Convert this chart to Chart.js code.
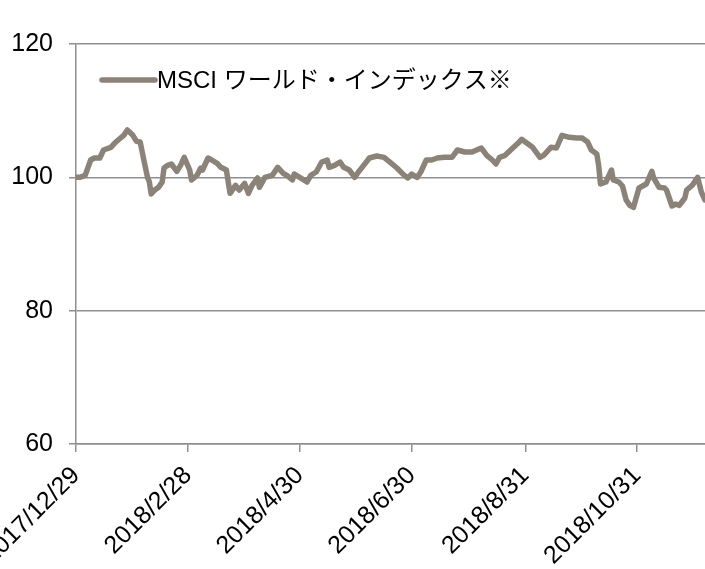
<!DOCTYPE html>
<html>
<head>
<meta charset="utf-8">
<script src="https://cdn.jsdelivr.net/npm/chart.js@4/dist/chart.umd.min.js"></script>
<style>
  html, body { margin: 0; padding: 0; background: #fff; }
  #wrap { width: 705px; height: 569px; }
</style>
</head>
<body>
<div id="wrap"><canvas id="grafica"></canvas></div>
<script>
// dates
const fechas = [
  "2017/12/29", "2017/12/31", "2018/1/3", "2018/1/6", "2018/1/8", "2018/1/11", "2018/1/13", "2018/1/17",
  "2018/1/19", "2018/1/21", "2018/1/24", "2018/1/26", "2018/1/29", "2018/1/31", "2018/2/2", "2018/2/4",
  "2018/2/6", "2018/2/7", "2018/2/8", "2018/2/10", "2018/2/12", "2018/2/14", "2018/2/15", "2018/2/17",
  "2018/2/19", "2018/2/22", "2018/2/24", "2018/2/26", "2018/3/1", "2018/3/2", "2018/3/5", "2018/3/7",
  "2018/3/8", "2018/3/11", "2018/3/13", "2018/3/16", "2018/3/18", "2018/3/21", "2018/3/23", "2018/3/26",
  "2018/3/28", "2018/3/31", "2018/4/2", "2018/4/4", "2018/4/7", "2018/4/8", "2018/4/11", "2018/4/15",
  "2018/4/18", "2018/4/21", "2018/4/23", "2018/4/26", "2018/4/27", "2018/4/30", "2018/5/4", "2018/5/6",
  "2018/5/9", "2018/5/12", "2018/5/15", "2018/5/16", "2018/5/19", "2018/5/22", "2018/5/24", "2018/5/27",
  "2018/5/30", "2018/6/1", "2018/6/3", "2018/6/7", "2018/6/11", "2018/6/15", "2018/6/19", "2018/6/22",
  "2018/6/26", "2018/6/28", "2018/6/30", "2018/7/3", "2018/7/5", "2018/7/8", "2018/7/11", "2018/7/14",
  "2018/7/18", "2018/7/22", "2018/7/25", "2018/7/29", "2018/8/2", "2018/8/7", "2018/8/10", "2018/8/13",
  "2018/8/15", "2018/8/17", "2018/8/20", "2018/8/23", "2018/8/27", "2018/8/29", "2018/9/1", "2018/9/4",
  "2018/9/8", "2018/9/10", "2018/9/14", "2018/9/17", "2018/9/20", "2018/9/24", "2018/9/28", "2018/10/1",
  "2018/10/4", "2018/10/6", "2018/10/9", "2018/10/10", "2018/10/11", "2018/10/14", "2018/10/17", "2018/10/18",
  "2018/10/21", "2018/10/23", "2018/10/25", "2018/10/27", "2018/10/29", "2018/11/1", "2018/11/3", "2018/11/5",
  "2018/11/8", "2018/11/9", "2018/11/12", "2018/11/15", "2018/11/16", "2018/11/19", "2018/11/21", "2018/11/23",
  "2018/11/26", "2018/11/27", "2018/11/30", "2018/12/3", "2018/12/5", "2018/12/7"
];

const msci = [
  100.0, 100.0, 100.3, 102.6, 102.9, 102.9, 104.1, 104.5,
  105.1, 105.6, 106.3, 107.1, 106.3, 105.4, 105.3, 102.6,
  100.0, 99.3, 97.5, 98.1, 98.5, 99.3, 101.4, 101.8,
  102.0, 100.9, 101.8, 103.0, 101.1, 99.6, 100.3, 101.4,
  101.1, 102.9, 102.6, 102.1, 101.5, 101.1, 97.6, 98.8,
  98.1, 99.1, 97.6, 98.8, 99.9, 98.5, 100.0, 100.3,
  101.5, 100.6, 100.3, 99.6, 100.5, 100.0, 99.3, 100.3,
  100.8, 102.3, 102.6, 101.5, 101.8, 102.3, 101.5, 101.1,
  100.0, 100.8, 101.5, 102.9, 103.2, 103.0, 102.1, 101.4,
  100.3, 99.9, 100.5, 100.0, 100.8, 102.6, 102.6, 102.9,
  103.0, 103.0, 104.1, 103.8, 103.8, 104.4, 103.3, 102.6,
  102.0, 103.0, 103.3, 104.1, 105.1, 105.7, 105.1, 104.5,
  103.0, 103.3, 104.5, 104.4, 106.3, 106.0, 105.9, 105.9,
  105.3, 104.1, 103.5, 101.8, 99.0, 99.3, 101.1, 99.6,
  99.3, 98.7, 96.6, 95.8, 95.5, 98.4, 98.7, 99.0,
  100.9, 99.9, 98.5, 98.4, 98.1, 95.7, 96.0, 95.8,
  96.9, 98.1, 98.8, 100.0, 97.8, 96.6
];

const etiquetasX = ["2017/12/29", "2018/2/28", "2018/4/30", "2018/6/30", "2018/8/31", "2018/10/31"];
const ticksY = [60, 80, 100, 120];
const nombreSerie = "MSCI ワールド・インデックス※";

const COLOR_LINEA = "#8b8378";
const COLOR_EJE = "#8f8f8f";
const FUENTE = '"Liberation Sans", Arial, "Noto Sans CJK JP", sans-serif';

function aDia(txt) {
  const p = txt.split("/").map(Number);
  return Date.UTC(p[0], p[1] - 1, p[2]) / 86400000;
}
const dia0 = aDia(fechas[0]);
const diaFin = aDia(fechas[fechas.length - 1]);

const puntos = fechas.map((f, i) => ({ x: aDia(f) - dia0, y: msci[i] }));

// legend drawn inside the plot, top left
const leyendaDentro = {
  id: "leyendaDentro",
  afterDatasetsDraw(chart) {
    const c = chart.ctx;
    const a = chart.chartArea;
    const y = a.top + 36;
    c.save();
    c.strokeStyle = COLOR_LINEA;
    c.lineWidth = 5.5;
    c.lineCap = "round";
    c.beginPath();
    c.moveTo(a.left + 26, y);
    c.lineTo(a.left + 79, y);
    c.stroke();
    c.fillStyle = "#000";
    c.font = "24px " + FUENTE;
    c.textBaseline = "middle";
    c.fillText(nombreSerie, a.left + 81, y + 1);
    c.restore();
  }
};

new Chart(document.getElementById("grafica"), {
  type: "line",
  data: {
    datasets: [
      {
        label: nombreSerie,
        data: puntos,
        borderColor: COLOR_LINEA,
        borderWidth: 5.5,
        pointRadius: 0,
        tension: 0,
        borderJoinStyle: "round",
        borderCapStyle: "round",
      },
    ],
  },
  options: {
    responsive: true,
    maintainAspectRatio: false,
    animation: false,
    layout: { padding: { top: 44, right: 0, left: 0, bottom: 0 } },
    plugins: {
      legend: { display: false },
      tooltip: { enabled: false },
    },
    scales: {
      x: {
        type: "linear",
        min: 0,
        max: diaFin - dia0,
        afterBuildTicks: (eje) => {
          eje.ticks = etiquetasX.map((f) => ({ value: aDia(f) - dia0 }));
        },
        afterFit: (eje) => {
          eje.height = 125;
          eje.paddingLeft = 0;
          eje.paddingRight = 0;
        },
        ticks: {
          autoSkip: false,
          minRotation: 45,
          maxRotation: 45,
          padding: 9,
          color: "#000",
          font: { family: FUENTE, size: 25 },
          callback: (v) => {
            const i = etiquetasX.findIndex((f) => aDia(f) - dia0 === v);
            return i >= 0 ? etiquetasX[i] : "";
          },
        },
        grid: {
          drawOnChartArea: false,
          drawTicks: true,
          tickLength: 8,
          color: COLOR_EJE,
          lineWidth: 1.5,
        },
        border: { display: true, color: COLOR_EJE, width: 1.5 },
      },
      y: {
        min: ticksY[0],
        max: ticksY[ticksY.length - 1],
        afterBuildTicks: (eje) => {
          eje.ticks = ticksY.map((v) => ({ value: v }));
        },
        afterFit: (eje) => {
          eje.width = 76;
        },
        ticks: {
          padding: 16,
          color: "#000",
          font: { family: FUENTE, size: 25 },
        },
        grid: {
          drawTicks: true,
          tickLength: 7,
          color: COLOR_EJE,
          lineWidth: 1.5,
        },
        border: { display: true, color: COLOR_EJE, width: 1.5 },
      },
    },
  },
  plugins: [leyendaDentro],
});
</script>
</body>
</html>
